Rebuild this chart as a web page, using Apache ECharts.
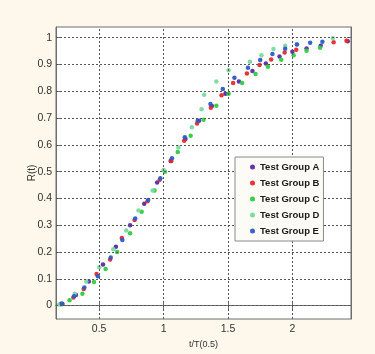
<!DOCTYPE html>
<html>
<head>
<meta charset="utf-8">
<script src="https://cdn.jsdelivr.net/npm/echarts@6/dist/echarts.min.js"></script>
<style>
  html, body { margin: 0; padding: 0; background: #fdf7ec; }
  #chart { width: 375px; height: 354px; }
</style>
</head>
<body>
<div id="chart"></div>
<script>
// Reliability R(t) against normalised time t/T(0.5), one list of [x, y] pairs per group
const groupNames = ['Test Group A', 'Test Group B', 'Test Group C', 'Test Group D', 'Test Group E'];
const groupColors = ['#5b2aa8', '#e8282a', '#2ecc40', '#7ad9a0', '#2a5cc8'];

const groupA = [
  [0.215, 0.006], [0.32, 0.040], [0.42, 0.090], [0.53, 0.153], [0.63, 0.220],
  [0.74, 0.300], [0.85, 0.380], [0.95, 0.460], [1.055, 0.540], [1.17, 0.622],
  [1.275, 0.690], [1.375, 0.745], [1.48, 0.791], [1.585, 0.837], [1.69, 0.876],
  [1.794, 0.904], [1.90, 0.930], [2.00, 0.948], [2.11, 0.960], [2.22, 0.970],
  [2.43, 0.987]
];
const groupB = [
  [0.20, 0.006], [0.30, 0.030], [0.38, 0.062], [0.48, 0.118], [0.585, 0.172],
  [0.676, 0.252], [0.775, 0.320], [0.875, 0.390], [0.97, 0.470], [1.06, 0.540],
  [1.16, 0.615], [1.26, 0.680], [1.367, 0.739], [1.45, 0.785], [1.54, 0.831],
  [1.647, 0.866], [1.745, 0.898], [1.835, 0.919], [1.94, 0.945], [2.03, 0.955],
  [2.32, 0.983], [2.42, 0.989]
];
const groupC = [
  [0.205, 0.005], [0.27, 0.020], [0.37, 0.044], [0.46, 0.088], [0.55, 0.137],
  [0.64, 0.200], [0.74, 0.270], [0.83, 0.350], [0.93, 0.430], [1.01, 0.500],
  [1.11, 0.573], [1.21, 0.634], [1.31, 0.694], [1.41, 0.746], [1.505, 0.791],
  [1.61, 0.831], [1.714, 0.865], [1.81, 0.892], [1.913, 0.918], [2.01, 0.935],
  [2.11, 0.951], [2.215, 0.963]
];
const groupD = [
  [0.19, 0.004], [0.31, 0.044], [0.40, 0.090], [0.50, 0.143], [0.61, 0.210],
  [0.71, 0.280], [0.805, 0.355], [0.915, 0.430], [1.00, 0.506], [1.115, 0.590],
  [1.22, 0.666], [1.295, 0.733], [1.315, 0.787], [1.41, 0.837], [1.505, 0.879],
  [1.67, 0.910], [1.76, 0.935], [1.853, 0.958], [1.944, 0.970], [2.035, 0.976],
  [2.314, 0.998]
];
const groupE = [
  [0.21, 0.008], [0.305, 0.035], [0.385, 0.068], [0.49, 0.110], [0.59, 0.180],
  [0.68, 0.245], [0.78, 0.325], [0.88, 0.394], [0.975, 0.475], [1.065, 0.550],
  [1.165, 0.628], [1.265, 0.690], [1.364, 0.753], [1.46, 0.809], [1.55, 0.851],
  [1.655, 0.888], [1.75, 0.917], [1.845, 0.939], [1.944, 0.959], [2.035, 0.975],
  [2.138, 0.981], [2.233, 0.985]
];
const groupData = [groupA, groupB, groupC, groupD, groupE];

// Axis extents and tick positions
const xMin = 0.165, xMax = 2.455;
const yMin = -0.05, yMax = 1.04;
const xTicks = [0.5, 1, 1.5, 2];
const yTicks = [0, 0.1, 0.2, 0.3, 0.4, 0.5, 0.6, 0.7, 0.8, 0.9, 1];

const axisColor = '#6e6e6e';
const gridDots = { color: '#555555', width: 1, type: [2, 2] };
const fontFamily = 'Liberation Sans, Arial, sans-serif';
const tickFont = { color: '#333', fontSize: 10.5, fontFamily };

const tickStyle = (values) => ({
  show: true, inside: true, length: 4, customValues: values,
  lineStyle: { color: axisColor }
});

// Dotted grid lines at the tick values, drawn beneath the markers
const gridLines = [
  ...xTicks.map(v => ({ xAxis: v })),
  ...yTicks.map(v => ({ yAxis: v }))
];

const chart = echarts.init(document.getElementById('chart'), null, { renderer: 'canvas' });

chart.setOption({
  backgroundColor: '#fdf7ec',
  animation: false,
  grid: {
    left: 56, right: 24, top: 27, bottom: 34,
    show: true, backgroundColor: '#ffffff', borderColor: axisColor, borderWidth: 1
  },
  legend: {
    data: groupNames,
    orient: 'vertical',
    left: 235, top: 157,
    padding: [4, 4, 4, 15],
    itemGap: 4,
    itemWidth: 5, itemHeight: 5,
    icon: 'circle',
    backgroundColor: '#fdfbf5',
    borderColor: '#8a8a8a', borderWidth: 1,
    z: 10,
    textStyle: {
      color: '#1a1a1a', fontSize: 9.5, fontWeight: 'bold', lineHeight: 12, fontFamily
    }
  },
  xAxis: [{
    type: 'value', min: xMin, max: xMax,
    name: 't/T(0.5)', nameLocation: 'middle', nameGap: 21, nameMoveOverlap: false,
    nameTextStyle: { color: '#333', fontSize: 9, fontFamily },
    axisLine: { show: true, lineStyle: { color: axisColor } },
    axisTick: tickStyle(xTicks),
    axisLabel: { ...tickFont, margin: 5, customValues: xTicks },
    splitLine: { show: false }
  }, {
    type: 'value', min: xMin, max: xMax, position: 'top',
    axisLine: { show: true, lineStyle: { color: axisColor } },
    axisTick: tickStyle(xTicks),
    axisLabel: { show: false, customValues: xTicks }, splitLine: { show: false }
  }],
  yAxis: [{
    type: 'value', min: yMin, max: yMax,
    name: 'R(t)', nameLocation: 'middle', nameGap: 19, nameMoveOverlap: false,
    nameTextStyle: { color: '#333', fontSize: 10, fontFamily },
    axisLine: { show: true, lineStyle: { color: axisColor } },
    axisTick: tickStyle(yTicks),
    axisLabel: {
      ...tickFont, margin: 4, customValues: yTicks,
      formatter: v => String(Math.round(v * 10) / 10)
    },
    splitLine: { show: false }
  }, {
    type: 'value', min: yMin, max: yMax, position: 'right',
    axisLine: { show: true, lineStyle: { color: axisColor } },
    axisTick: tickStyle(yTicks),
    axisLabel: { show: false, customValues: yTicks }, splitLine: { show: false }
  }],
  series: [
    {
      name: 'grid',
      type: 'scatter',
      xAxisIndex: 0, yAxisIndex: 0,
      data: [],
      z: 1,
      silent: true,
      markLine: {
        silent: true, symbol: 'none', animation: false,
        label: { show: false },
        lineStyle: gridDots,
        emphasis: { disabled: true },
        data: gridLines
      }
    },
    ...groupNames.map((name, i) => ({
      name,
      type: 'scatter',
      xAxisIndex: 0, yAxisIndex: 0,
      symbol: 'circle',
      symbolSize: 4.5,
      z: 3,
      itemStyle: { color: groupColors[i], opacity: 0.95 },
      data: groupData[i]
    }))
  ]
});
</script>
</body>
</html>
